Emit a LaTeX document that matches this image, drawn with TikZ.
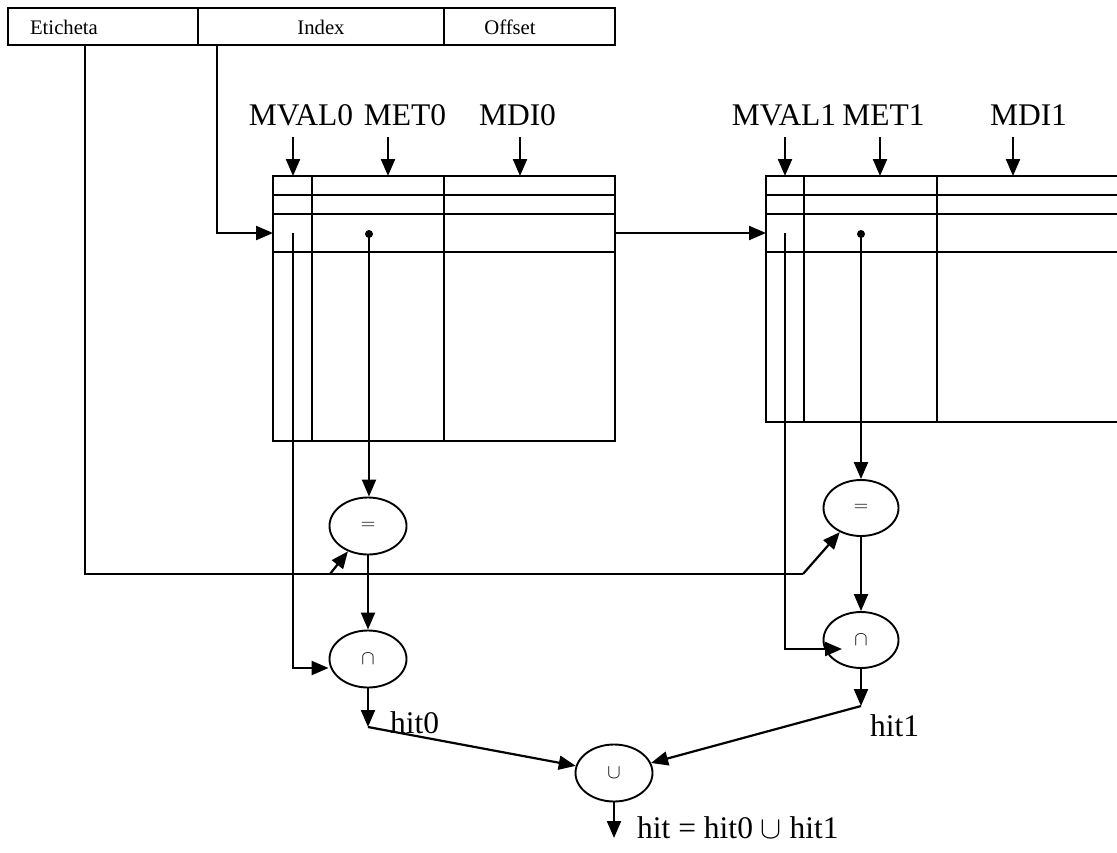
\RequirePackage{fix-cm}
\documentclass[tikz,border=0pt]{standalone}
\usepackage{fontspec}
\setmainfont{Liberation Serif}
\usetikzlibrary{arrows.meta,shapes.geometric}
\begin{document}
\begin{tikzpicture}[x=1pt,y=-1pt,
  big/.style={font=\fontsize{31.5}{36}\selectfont, inner sep=0pt},
  small/.style={font=\fontsize{20.7}{24}\selectfont, inner sep=0pt},
  wire/.style={line width=2.2pt},
  arr/.style={wire, -{Triangle[length=17pt,width=14pt]}},
  tab/.style={line width=1.9pt},
  op/.style={draw, ellipse, line width=1.9pt, minimum width=77pt, minimum height=57pt, inner sep=0pt, font=\fontsize{20}{22}\selectfont},
  cell/.style={draw, line width=1.9pt, rectangle, inner sep=0pt, minimum height=37pt},
  ]
\clip (0,0) rectangle (1117,852);
\fill[white] (0,0) rectangle (1117,852);

% address bar
\node[cell, minimum width=190pt] (eti) at (103,26.5) {};
\node[cell, minimum width=246pt] (idx) at (321,26.5) {};
\node[cell, minimum width=171pt] (off) at (529.5,26.5) {};
\node[small, anchor=base] (etit) at (64,34) {Eticheta};
\node[small, anchor=base] (idxt) at (321,34) {Index};
\node[small, anchor=base] (offt) at (510,34) {Offset};

% tables
\draw[tab] (273,176) rectangle (615,441);
\foreach \y in {195,214,252} \draw[tab] (273,\y) -- (615,\y);
\foreach \x in {312,444} \draw[tab] (\x,176) -- (\x,441);
\draw[tab] (1130,176) -- (766,176) -- (766,422) -- (1130,422);
\foreach \y in {195,214,252} \draw[tab] (766,\y) -- (1130,\y);
\foreach \x in {804,937} \draw[tab] (\x,176) -- (\x,422);

% column labels
\node[big, anchor=base] (mval0) at (301,125) {MVAL0};
\node[big, anchor=base] (met0) at (405,125) {MET0};
\node[big, anchor=base] (mdi0) at (517.5,125) {MDI0};
\node[big, anchor=base] (mval1) at (784,125) {MVAL1};
\node[big, anchor=base] (met1) at (883.5,125) {MET1};
\node[big, anchor=base] (mdi1) at (1028.5,125) {MDI1};
\foreach \n/\x in {a/293,b/388,c/520,d/785,e/880,f/1013}{
  \coordinate (\n s) at (\x,137);
  \coordinate (\n e) at (\x,176);
  \draw[arr] (\n s) -- (\n e);
}

% coordinates
\coordinate (etiout) at (85,45);
\coordinate (idxout) at (217,45);
\coordinate (t0in) at (273,233);
\coordinate (t0out) at (615,233);
\coordinate (t1in) at (766,233);
\coordinate (v0) at (293,233);
\coordinate (m0) at (369,234);
\coordinate (v1) at (785,233);
\coordinate (m1) at (861,234);
\coordinate (h0) at (368,727);
\coordinate (h1) at (861,706);
\coordinate (eb) at (330,574);
\coordinate (ec) at (803,574);
\coordinate (hout) at (614,838);

% operators
\node[op] (eq0) at (368,526) {$=$};
\node[op] (cap0) at (368,659) {$\cap$};
\node[op, minimum width=75pt, minimum height=56pt] (eq1) at (861,508) {$=$};
\node[op, minimum width=75pt, minimum height=56pt] (cap1) at (861,640) {$\cap$};
\node[op] (cup) at (614,773) {$\cup$};

% connectors
\draw[arr] (idxout) |- (t0in);
\draw[arr] (t0out) -- (t1in);
\draw[wire] (etiout) |- (ec);
\draw[arr] (ec) -- (eq1);
\draw[arr] (eb) -- (eq0);

\fill (m0) circle (4pt);
\draw[arr] (m0) -- (m0 |- eq0.north);
\draw[arr] (v0) |- ([yshift=-9pt]cap0.west);
\draw[arr] (eq0) -- (cap0);
\draw[arr] (cap0) -- (h0);
\draw[arr] (h0) -- (cup);

\fill (m1) circle (4pt);
\draw[arr] (m1) -- (m1 |- eq1.north);
\draw[arr] (v1) |- ([xshift=-19pt,yshift=-9pt]cap1.center);
\draw[arr] (eq1) -- (cap1);
\draw[arr] (cap1) -- (h1);
\draw[arr] (h1) -- (cup);

\draw[arr] (cup) -- (hout);

% texts
\node[big, anchor=base west] (hit0) at (390,733) {hit0};
\node[big, anchor=base west] (hit1) at (870,736) {hit1};
\node[big, anchor=base west] (hit) at (637,838) {hit = hit0 $\cup$ hit1};
\end{tikzpicture}
\end{document}
